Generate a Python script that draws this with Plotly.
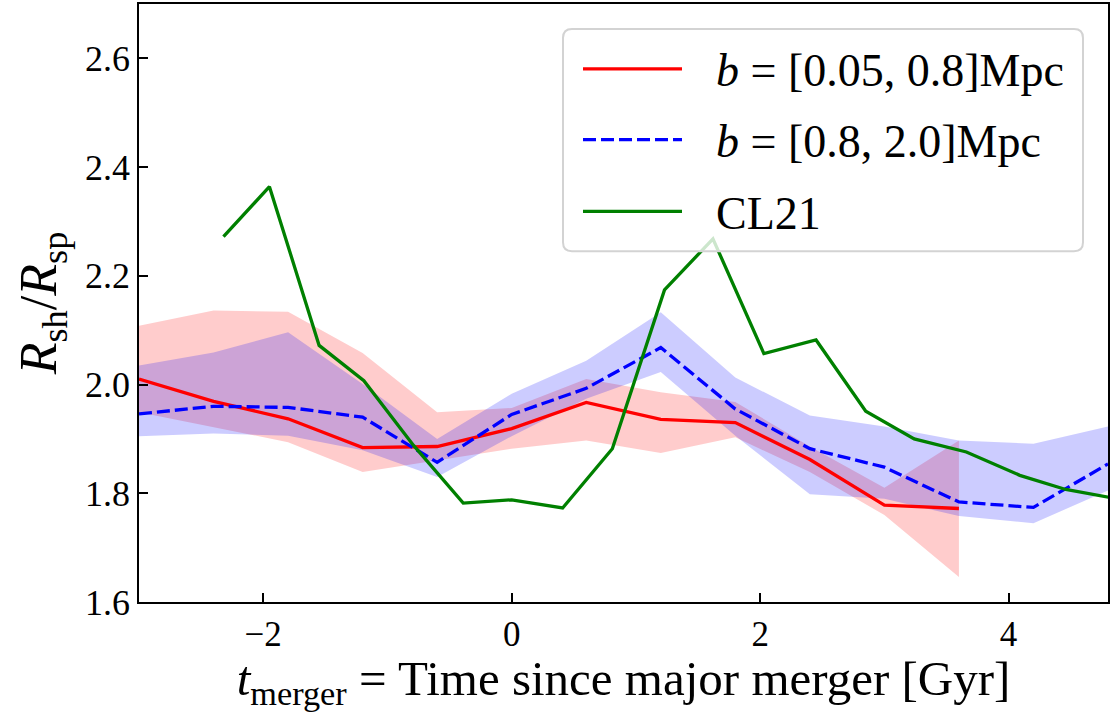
import plotly.graph_objects as go

# ---------------- data ----------------
t_red = [-3.0, -2.4, -1.8, -1.2, -0.6, 0.0, 0.6, 1.2, 1.8, 2.4, 3.0, 3.6]
red_mid = [2.010, 1.969, 1.937, 1.884, 1.886, 1.919, 1.967, 1.936, 1.930, 1.862, 1.778, 1.772]
red_hi = [2.108, 2.136, 2.134, 2.058, 1.949, 1.957, 2.010, 1.986, 1.968, 1.886, 1.810, 1.897]
red_lo = [1.949, 1.922, 1.894, 1.839, 1.860, 1.882, 1.897, 1.874, 1.903, 1.839, 1.760, 1.646]

t_blue = [-3.0, -2.4, -1.8, -1.2, -0.6, 0.0, 0.6, 1.2, 1.8, 2.4, 3.0, 3.6, 4.2, 4.8]
blue_mid = [1.946, 1.960, 1.958, 1.940, 1.857, 1.945, 1.993, 2.068, 1.955, 1.882, 1.848, 1.784, 1.774, 1.854]
blue_hi = [2.035, 2.059, 2.096, 2.001, 1.900, 1.983, 2.044, 2.133, 2.013, 1.943, 1.923, 1.897, 1.891, 1.923]
blue_lo = [1.905, 1.910, 1.906, 1.879, 1.830, 1.905, 1.974, 2.023, 1.906, 1.798, 1.790, 1.758, 1.745, 1.805]

t_cl21 = [-2.32, -1.95, -1.55, -1.19, -0.79, -0.39, 0.0, 0.41, 0.81, 1.23, 1.62, 2.03, 2.45, 2.85, 3.24, 3.66, 4.09, 4.46, 4.87]
r_cl21 = [2.272, 2.364, 2.072, 2.007, 1.888, 1.782, 1.788, 1.773, 1.882, 2.174, 2.268, 2.057, 2.082, 1.951, 1.900, 1.876, 1.833, 1.807, 1.790]

x_ticks = [-2, 0, 2, 4]
y_ticks = [1.6, 1.8, 2.0, 2.2, 2.4, 2.6]

legend_labels = ["<i>b</i> = [0.05, 0.8]Mpc", "<i>b</i> = [0.8, 2.0]Mpc", "CL21"]
legend_colors = ["red", "blue", "green"]
legend_dash = ["solid", "13px,5px", "solid"]

FONT = "Liberation Serif"
LW = 3.3

fig = go.Figure()

# bands
fig.add_trace(go.Scatter(x=t_red, y=red_lo, mode="lines", line=dict(width=0),
                         showlegend=False, hoverinfo="skip"))
fig.add_trace(go.Scatter(x=t_red, y=red_hi, mode="lines", line=dict(width=0),
                         fill="tonexty", fillcolor="rgba(255,0,0,0.2)",
                         showlegend=False, hoverinfo="skip"))
fig.add_trace(go.Scatter(x=t_blue, y=blue_lo, mode="lines", line=dict(width=0),
                         showlegend=False, hoverinfo="skip"))
fig.add_trace(go.Scatter(x=t_blue, y=blue_hi, mode="lines", line=dict(width=0),
                         fill="tonexty", fillcolor="rgba(0,0,255,0.2)",
                         showlegend=False, hoverinfo="skip"))

# lines
fig.add_trace(go.Scatter(x=t_red, y=red_mid, mode="lines",
                         line=dict(color="red", width=LW), showlegend=False))
fig.add_trace(go.Scatter(x=t_blue, y=blue_mid, mode="lines",
                         line=dict(color="blue", width=LW, dash="13px,5px"), showlegend=False))
fig.add_trace(go.Scatter(x=t_cl21, y=r_cl21, mode="lines",
                         line=dict(color="green", width=LW), showlegend=False))

# ---------- manual legend (matplotlib style) ----------
W, H = 1115, 712
ml, mr, mt, mb = 139, 7, 2, 110
pw, ph = W - ml - mr, H - mt - mb


def px(X):
    return (X - ml) / pw


def py(Y):
    return (H - mb - Y) / ph


x0, x1, y0, y1 = 563, 1083, 27, 250
r = 9
path = (f"M {px(x0 + r)},{py(y0)} L {px(x1 - r)},{py(y0)} Q {px(x1)},{py(y0)} {px(x1)},{py(y0 + r)} "
        f"L {px(x1)},{py(y1 - r)} Q {px(x1)},{py(y1)} {px(x1 - r)},{py(y1)} "
        f"L {px(x0 + r)},{py(y1)} Q {px(x0)},{py(y1)} {px(x0)},{py(y1 - r)} "
        f"L {px(x0)},{py(y0 + r)} Q {px(x0)},{py(y0)} {px(x0 + r)},{py(y0)} Z")
shapes = [dict(type="path", path=path, xref="paper", yref="paper",
               fillcolor="rgba(255,255,255,0.8)", line=dict(color="#d3d3d3", width=2),
               layer="above")]
annotations = []
rows = [67, 138, 210]
for lab, col, dsh, Y in zip(legend_labels, legend_colors, legend_dash, rows):
    shapes.append(dict(type="line", xref="paper", yref="paper",
                       x0=px(583), x1=px(682), y0=py(Y), y1=py(Y),
                       line=dict(color=col, width=LW, dash=dsh), layer="above"))
    annotations.append(dict(x=px(714), y=py(Y + 2), xref="paper", yref="paper",
                            text=lab, showarrow=False, xanchor="left", yanchor="middle",
                            font=dict(family=FONT, size=46, color="black")))

fig.update_layout(
    width=W, height=H,
    margin=dict(l=ml, r=mr, t=mt, b=mb),
    paper_bgcolor="white", plot_bgcolor="white",
    font=dict(family=FONT, color="black"),
    shapes=shapes, annotations=annotations,
    showlegend=False,
)
fig.update_xaxes(
    range=[-3, 4.8], tickvals=x_ticks, ticks="inside", ticklen=9, tickwidth=1.5,
    tickcolor="black", showline=True, linecolor="black", linewidth=1.8, mirror=True,
    showgrid=False, zeroline=False, tickfont=dict(family=FONT, size=35),
    title=dict(text="<i>t</i><sub>merger</sub> = Time since major merger [Gyr]",
               font=dict(family=FONT, size=49), standoff=0),
)
fig.update_yaxes(
    range=[1.6, 2.7], tickvals=y_ticks, tickformat=".1f", ticks="inside", ticklen=9,
    tickwidth=1.5, tickcolor="black", showline=True, linecolor="black", linewidth=1.8,
    mirror=True, showgrid=False, zeroline=False, tickfont=dict(family=FONT, size=36),
    title=dict(text="<i>R</i><sub>sh</sub>/<i>R</i><sub>sp</sub>",
               font=dict(family=FONT, size=52), standoff=12),
)

fig.write_html("out.html")
